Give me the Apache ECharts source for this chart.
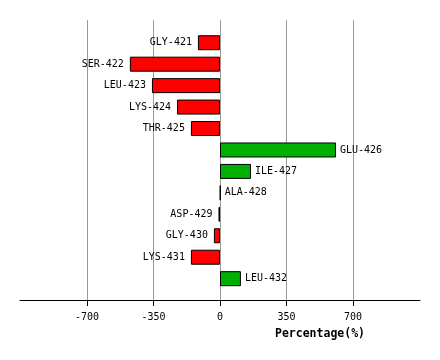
<!DOCTYPE html>
<html>
<head>
<meta charset="utf-8">
<script src="https://cdn.jsdelivr.net/npm/echarts@6/dist/echarts.min.js"></script>
<style>html,body{margin:0;padding:0;background:#fff}#c{width:440px;height:360px}</style>
</head>
<body>
<div id="c"></div>
<script>
var categories = ['GLY-421','SER-422','LEU-423','LYS-424','THR-425','GLU-426','ILE-427','ALA-428','ASP-429','GLY-430','LYS-431','LEU-432'];
var values = [-116, -474, -358, -226, -153, 610, 163, 2, -8, -32, -153, 110];
var tickValues = [-700, -350, 0, 350, 700];
var axisTitle = 'Percentage(%)';

var FONT = 'DejaVu Sans Mono';
var chart = echarts.init(document.getElementById('c'), null, {renderer: 'canvas'});
var data = values.map(function (v, i) {
  return {
    value: v,
    itemStyle: {color: v >= 0 ? '#00b000' : '#ff0000'},
    label: {position: v >= 0 ? 'right' : 'left', distance: v >= 0 ? 4 : 6}
  };
});
var xMin = -1052, xMax = 1052;
chart.setOption({
  animation: false,
  grid: [
    {left: 20, right: 20, top: 20, bottom: 60},
    {left: 20, right: 20, top: 32, bottom: 70.6}
  ],
  xAxis: [
    {
      gridIndex: 0, type: 'value', min: xMin, max: xMax,
      axisLine: {show: true, lineStyle: {color: '#000', width: 1}},
      axisTick: {show: true, length: 6, customValues: tickValues, lineStyle: {color: '#000'}},
      axisLabel: {customValues: tickValues, color: '#000', fontFamily: FONT, fontSize: 10, margin: 12},
      splitLine: {show: true, lineStyle: {color: '#999', width: 1}},
      name: axisTitle, nameLocation: 'middle', nameGap: 28,
      nameTextStyle: {color: '#000', fontFamily: FONT, fontWeight: 'bold', fontSize: 11.5, padding: [0, 0, 0, 200]}
    },
    {
      gridIndex: 1, type: 'value', min: xMin, max: xMax, show: false,
      splitLine: {show: false}
    }
  ],
  yAxis: [
    {gridIndex: 0, type: 'category', data: categories, show: false},
    {
      gridIndex: 1, type: 'category', data: categories, inverse: true, show: false
    }
  ],
  series: [{
    type: 'bar',
    xAxisIndex: 1, yAxisIndex: 1,
    data: data,
    barWidth: 15,
    itemStyle: {borderColor: '#000', borderWidth: 1},
    label: {
      show: true,
      color: '#000', fontFamily: FONT, fontSize: 10,
      formatter: function (p) { return p.name; }
    }
  }]
});
</script>
</body>
</html>
